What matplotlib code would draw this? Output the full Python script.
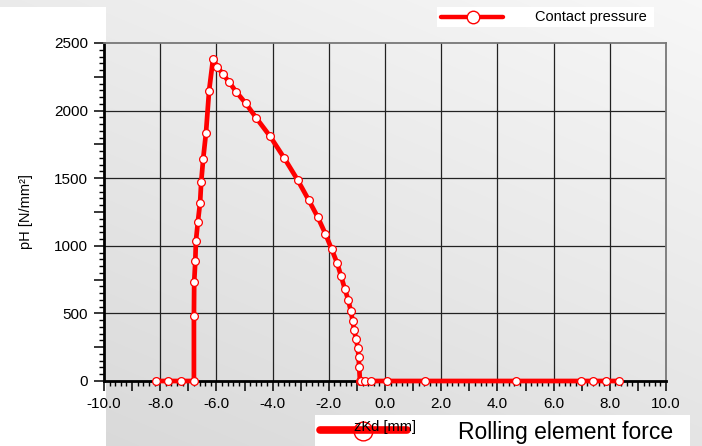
import numpy as np
import matplotlib
matplotlib.use("Agg")
import matplotlib.pyplot as plt
from matplotlib.lines import Line2D
from matplotlib.patches import Rectangle
from matplotlib.ticker import MultipleLocator, FuncFormatter

plt.rcParams['font.family'] = ['Liberation Sans', 'DejaVu Sans']

# contact pressure along the contact
zKd = [-8.16, -7.71, -7.27, -6.80, -6.80, -6.79, -6.75, -6.73, -6.66, -6.58,
       -6.54, -6.47, -6.37, -6.26, -6.12, -5.97, -5.78, -5.56, -5.30, -4.96,
       -4.58, -4.09, -3.58, -3.11, -2.72, -2.39, -2.12, -1.90, -1.70, -1.56,
       -1.43, -1.31, -1.22, -1.15, -1.10, -1.03, -0.97, -0.94, -0.92, -0.89,
       -0.84, -0.72, -0.50, 0.08, 1.42, 4.67, 6.96, 7.41, 7.87, 8.33]
pH = [0, 0, 0, 0, 481, 732, 890, 1033, 1176, 1320,
      1474, 1644, 1837, 2147, 2382, 2325, 2273, 2214, 2140, 2055,
      1945, 1810, 1647, 1487, 1340, 1211, 1088, 976, 870, 774,
      680, 601, 520, 446, 377, 311, 246, 180, 104, 0,
      0, 0, 0, 0, 0, 0, 0, 0, 0, 0]

x_grid = [-8, -6, -4, -2, 0, 2, 4, 6, 8]
y_grid = [500, 1000, 1500, 2000]

W, H = 702, 446
fig = plt.figure(figsize=(W / 100, H / 100), dpi=100)


def fx(x):
    return x / W


def fy(y):
    return 1 - y / H


# background gradient
bg = fig.add_axes([0, 0, 1, 1], zorder=-10)
xx, yy = np.meshgrid(np.linspace(0, 1, W), np.linspace(0, 1, H))
v = 0.97 - 0.05 * (1 - xx) - 0.075 * yy
bg.imshow(np.dstack([v, v, v]), aspect='auto', extent=[0, 1, 1, 0])
bg.set_axis_off()
fig.patches.append(Rectangle((0, 0), fx(106), fy(7), transform=fig.transFigure,
                             facecolor='white', edgecolor='none', zorder=-5))

ax = fig.add_axes([fx(104), fy(381), fx(666) - fx(104), fy(43) - fy(381)])
ax.patch.set_alpha(0)

for gx in x_grid:
    ax.axvline(gx, color='#222222', lw=0.9, zorder=1)
for gy in y_grid:
    ax.axhline(gy, color='#222222', lw=0.9, zorder=1)

ax.plot(zKd, pH, color='#ff0000', lw=3.4, marker='o', ms=5.6,
        mfc='white', mec='#ff0000', mew=0.9, zorder=5, clip_on=False)

ax.set_xlim(-10, 10)
ax.set_ylim(0, 2500)

ax.xaxis.set_major_locator(MultipleLocator(1))
ax.xaxis.set_minor_locator(MultipleLocator(0.2))
ax.xaxis.set_major_formatter(FuncFormatter(
    lambda v, p: '%.1f' % v if abs(v / 2 - round(v / 2)) < 1e-6 else ''))
ax.yaxis.set_major_locator(MultipleLocator(250))
ax.yaxis.set_minor_locator(MultipleLocator(50))
ax.yaxis.set_major_formatter(FuncFormatter(
    lambda v, p: '%d' % v if abs(v / 500 - round(v / 500)) < 1e-6 else ''))

ax.tick_params(which='major', direction='out', length=7.5, width=1.1,
               labelsize=11, pad=4, color='black')
ax.tick_params(which='minor', direction='out', length=3.5, width=1.0,
               color='black')

for s in ['left', 'bottom']:
    ax.spines[s].set_linewidth(2.0)
    ax.spines[s].set_color('black')
for s in ['top', 'right']:
    ax.spines[s].set_linewidth(1.3)
    ax.spines[s].set_color('#777777')

ax.set_ylabel('pH [N/mm²]', fontsize=10.5)
ax.yaxis.set_label_coords((33 - 104) / 562, 0.5)

# top legend
fig.patches.append(Rectangle((fx(437), fy(27)), fx(654) - fx(437), fy(7) - fy(27),
                             transform=fig.transFigure, facecolor='white',
                             edgecolor='none', zorder=2))
fig.add_artist(Line2D([fx(441), fx(503)], [fy(17), fy(17)], transform=fig.transFigure,
                      color='#ff0000', lw=3.2, solid_capstyle='round', zorder=3))
fig.add_artist(Line2D([fx(473)], [fy(17)], transform=fig.transFigure, marker='o',
                      ms=9, mfc='white', mec='#ff0000', mew=1.0, zorder=4))
fig.text(fx(535), fy(17), 'Contact pressure', fontsize=10.5, va='center', ha='left')

# bottom legend, overlapping the x label
fig.patches.append(Rectangle((fx(315), 0), fx(690) - fx(315), fy(415),
                             transform=fig.transFigure, facecolor='white',
                             edgecolor='none', zorder=2))
fig.add_artist(Line2D([fx(320), fx(407)], [fy(430), fy(430)], transform=fig.transFigure,
                      color='#ff0000', lw=5.5, solid_capstyle='round', zorder=3))
fig.add_artist(Line2D([fx(363)], [fy(431)], transform=fig.transFigure, marker='o',
                      ms=13.5, mfc='none', mec='#ff0000', mew=1.0, zorder=4))
fig.text(fx(385), fy(427), 'zKd [mm]', fontsize=10.5, va='center', ha='center', zorder=5)
fig.text(fx(458), fy(432), 'Rolling element force', fontsize=16.5,
         va='center', ha='left', zorder=5)

fig.savefig('out.png', dpi=100)
